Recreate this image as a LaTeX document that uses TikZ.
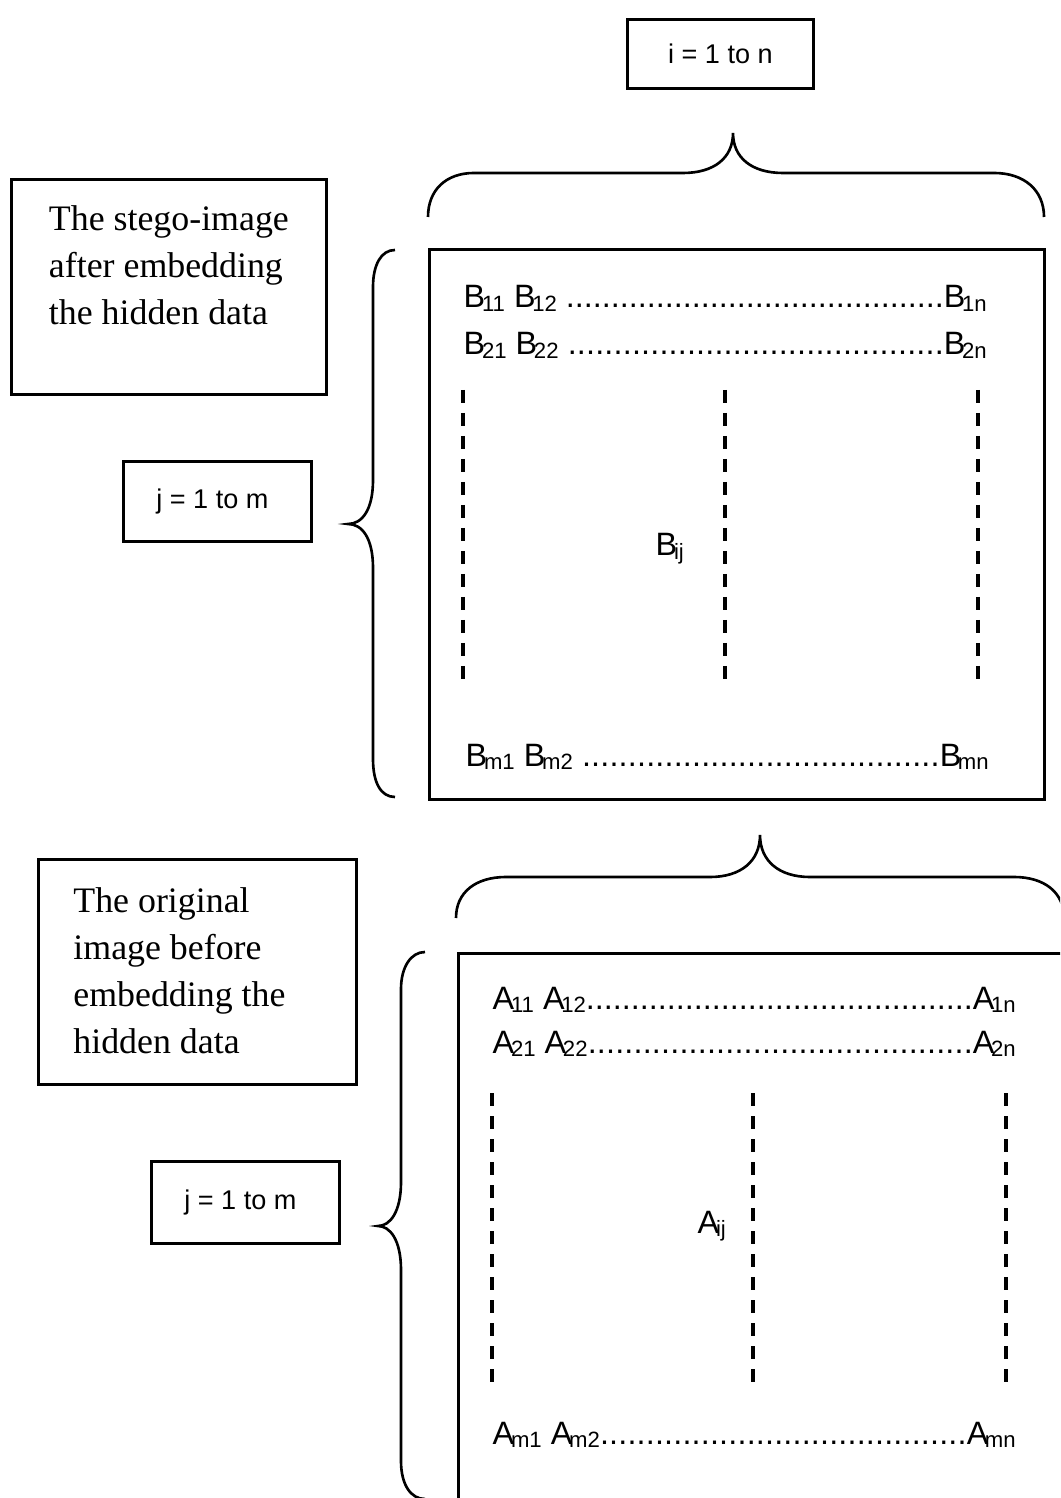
\documentclass[tikz,border=0pt]{standalone}
\usepackage{fontspec}
\setmainfont{Liberation Serif}
\setsansfont{Liberation Sans}
\newcommand{\ent}[2]{#1\kern-0.1em\raisebox{-0.12em}{\fontsize{6.3}{6.3}\selectfont #2}}
\newcommand{\dotrow}[2]{\hbox to 52.3mm{#1\xleaders\hbox{.}\hfill #2}}

\begin{document}
\begin{tikzpicture}[
    x=0.1mm, y=-0.1mm,
    note/.style={rectangle, draw, line width=0.8pt, align=flush left, anchor=north west, font=\fontsize{10.2}{13.4}\selectfont},
    lim/.style={rectangle, draw, line width=0.8pt, anchor=north west, font=\sffamily\fontsize{7.7}{9}\selectfont},
    mbox/.style={rectangle, draw, line width=0.8pt, anchor=north west, minimum width=61.5mm, minimum height=55mm},
    entry/.style={inner sep=0pt, anchor=base west, font=\sffamily\fontsize{9.2}{10}\selectfont},
    brc/.style={line width=0.75pt},
    vdash/.style={line width=1.05pt, dash pattern=on 1.3mm off 1mm}
  ]
  \useasboundingbox (0,0) rectangle (1060,1498);
  \clip (0,0) rectangle (1060,1498);

  % Stego-image block
  \node[lim, minimum width=18.6mm, minimum height=6.9mm] (range) at (626,18) {i = 1 to n};
  \node[note, minimum width=31.5mm, inner xsep=3.7mm, inner ysep=2.6mm, text depth=4.4mm] (stego) at (10,178) {The stego-image\\after embedding\\the hidden data};
  \node[lim, minimum width=18.8mm, minimum height=8mm, text width=12.2mm, align=flush left] (jb) at (122,460) {j = 1 to m};
  \node[mbox] (mb) at (428,248) {};
  \node[entry] (b1) at (463,308) {\dotrow{\ent{B}{11} \ent{B}{12} }{\ent{B}{1n}}};
  \node[entry] (b2) at (463,355) {\dotrow{\ent{B}{21} \ent{B}{22} }{\ent{B}{2n}}};
  \node[entry] (bij) at (655,556) {\ent{B}{ij}};
  \node[entry] (bm) at (465,766) {\dotrow{\ent{B}{m1} \ent{B}{m2} }{\ent{B}{mn}}};
  \foreach \x in {463,725,978}
    \draw[vdash] (\x,390) -- (\x,688);

  % Braces
  \draw[brc] (428,217) .. controls (428,190) and (446,173) .. (474,173) -- (683,173)
    .. controls (714,173) and (733,158) .. (733,133) .. controls (733,158) and (752,173) .. (783,173)
    -- (994,173) .. controls (1024,173) and (1044,190) .. (1044,217);
  \draw[brc] (395,250) .. controls (381,250) and (373,265) .. (373,287) -- (373,480)
    .. controls (373,510) and (362,524) .. (348,524) .. controls (362,524) and (373,538) .. (373,568)
    -- (373,759) .. controls (373,783) and (381,797) .. (395,797);

  % Original image block
  \node[note, text width=24.8mm, inner xsep=3.5mm, inner ysep=2.8mm, text depth=14.4mm] (orig) at (37,858) {The original\\image before\\embedding the\\hidden data};
  \node[lim, minimum width=18.8mm, minimum height=8.2mm, text width=12.2mm, align=flush left] (ja) at (150,1160) {j = 1 to m};
  \node[mbox] (ma) at (457,952) {};
  \node[entry] (a1) at (492,1009) {\dotrow{\ent{A}{11} \ent{A}{12}}{\ent{A}{1n}}};
  \node[entry] (a2) at (492,1053) {\dotrow{\ent{A}{21} \ent{A}{22}}{\ent{A}{2n}}};
  \node[entry] (aij) at (697,1233) {\ent{A}{ij}};
  \node[entry] (am) at (492,1444) {\dotrow{\ent{A}{m1} \ent{A}{m2}}{\ent{A}{mn}}};
  \foreach \x in {492,753,1006}
    \draw[vdash] (\x,1093) -- (\x,1388);

  % Braces
  \draw[brc] (456,918) .. controls (456,892) and (476,877) .. (506,877) -- (710,877)
    .. controls (741,877) and (760,861) .. (760,835) .. controls (760,861) and (779,877) .. (810,877)
    -- (1014,877) .. controls (1044,877) and (1064,892) .. (1064,918);
  \draw[brc] (425,952) .. controls (411,952) and (401,967) .. (401,989) -- (401,1182)
    .. controls (401,1212) and (390,1226) .. (378,1226) .. controls (390,1226) and (401,1240) .. (401,1270)
    -- (401,1461) .. controls (401,1485) and (411,1499) .. (425,1499);
\end{tikzpicture}
\end{document}
